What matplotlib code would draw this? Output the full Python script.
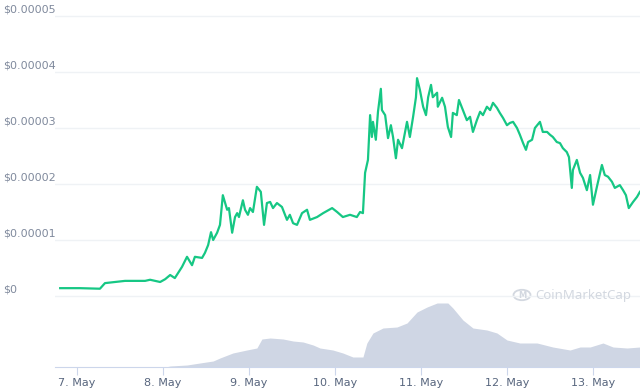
import numpy as np
import matplotlib.pyplot as plt
from matplotlib import transforms
from matplotlib.patches import Circle

# --- DATA ---
# hours since 7 May 00:00, price in units of $0.00001
price_hours = [-4.7, 0.8, 6.4, 7.8, 10.6, 13.4, 16.2, 19.0, 20.4, 23.2, 24.6, 26.0, 27.3,
               29.3, 30.7, 32.1, 32.9, 34.9, 35.7, 36.6, 37.4, 38.0, 39.1, 39.9, 40.7,
               41.9, 42.4, 43.3, 44.1, 44.7, 45.2, 46.3, 46.9, 47.7, 48.3, 49.1, 50.2,
               51.3, 52.2, 53.0, 53.9, 54.7, 55.8, 57.2, 58.6, 59.4, 60.3, 61.4, 62.8,
               64.2, 65.0, 67.0, 68.7, 71.2, 72.6, 74.2, 76.2, 78.1, 79.0, 79.8, 80.4,
               81.2, 81.8, 82.3, 82.6, 83.4, 84.0, 84.8, 85.1, 86.0, 86.8, 87.6, 88.2,
               89.0, 89.6, 90.7, 92.1, 92.9, 93.8, 94.6, 94.9, 95.7, 96.6, 97.4, 98.0,
               98.8, 99.3, 100.5, 100.7, 101.9, 102.7, 103.5, 104.4, 104.9, 106.0, 106.6,
               107.7, 108.8, 109.7, 110.5, 111.6, 112.5, 113.3, 114.4, 115.3, 116.1,
               117.2, 118.0, 118.9, 120.0, 120.8, 121.7, 122.8, 123.6, 124.5, 125.3,
               125.9, 127.0, 127.8, 129.2, 130.0, 131.2, 132.0, 132.8, 133.9, 134.8,
               135.6, 136.7, 137.3, 138.1, 138.4, 139.5, 140.4, 141.2, 142.3, 143.2,
               144.0, 145.1, 146.5, 147.3, 148.2, 149.3, 150.1, 151.5, 152.4, 153.2,
               154.0, 155.2, 156.3, 157.1]
price_e5 = [0.14, 0.14, 0.13, 0.23, 0.25, 0.27, 0.27, 0.27, 0.29, 0.25, 0.30, 0.375, 0.32,
            0.52, 0.70, 0.55, 0.70, 0.68, 0.77, 0.91, 1.14, 1.00, 1.13, 1.27, 1.80,
            1.54, 1.57, 1.13, 1.41, 1.48, 1.41, 1.71, 1.54, 1.45, 1.57, 1.50, 1.95,
            1.86, 1.27, 1.66, 1.68, 1.57, 1.66, 1.59, 1.36, 1.45, 1.30, 1.27, 1.48,
            1.54, 1.36, 1.41, 1.48, 1.57, 1.50, 1.41, 1.45, 1.41, 1.50, 1.48, 2.20,
            2.43, 3.23, 2.84, 3.11, 2.79, 3.29, 3.70, 3.32, 3.23, 2.82, 3.05, 2.84,
            2.46, 2.79, 2.64, 3.11, 2.84, 3.20, 3.55, 3.89, 3.68, 3.38, 3.23, 3.55,
            3.77, 3.55, 3.63, 3.38, 3.54, 3.38, 3.02, 2.84, 3.27, 3.23, 3.50,
            3.32, 3.14, 3.20, 2.93, 3.14, 3.29, 3.23, 3.38, 3.32, 3.45,
            3.36, 3.27, 3.18, 3.05, 3.09, 3.11, 3.00, 2.88, 2.73, 2.61,
            2.75, 2.79, 3.00, 3.11, 2.93, 2.93, 2.88, 2.84, 2.75, 2.73,
            2.64, 2.57, 2.48, 1.93, 2.25, 2.43, 2.20, 2.11, 1.89, 2.16,
            1.63, 1.95, 2.34, 2.16, 2.13, 2.04, 1.93, 1.98, 1.89, 1.80,
            1.57, 1.68, 1.77, 1.86]

# volume (relative units)
vol_hours = [-4.7, 24.6, 26.0, 30.7, 34.3, 38.0, 39.9, 43.5, 47.4, 50.2, 51.6, 53.9, 57.5,
             60.3, 63.1, 65.9, 67.8, 71.4, 74.2, 77.0, 79.8, 80.9, 82.6, 85.4, 89.3,
             92.1, 94.9, 97.7, 100.5, 103.5, 104.9, 107.7, 110.5, 114.4, 117.2, 120.0,
             123.6, 128.4, 132.8, 137.6, 140.4, 143.2, 146.8, 149.6, 153.5, 157.1]
volume = [0, 0, 1, 2, 4, 6, 9, 14, 17, 19, 28, 29, 28,
          26, 25, 22, 19, 17, 14, 10, 10, 24, 34, 39, 40,
          44, 55, 60, 64, 64, 59, 47, 39, 37, 34, 27,
          24, 24, 20, 17, 20, 20, 24, 20, 19, 20]

tick_days = [7, 8, 9, 10, 11, 12, 13]
tick_labels = [f"{d}. May" for d in tick_days]
y_ticks_e5 = [0, 1, 2, 3, 4, 5]
y_labels = ["$0", "$0.00001", "$0.00002", "$0.00003", "$0.00004", "$0.00005"]

GREEN = '#16c784'
VOL_COLOR = '#cfd6e4'
GRID = '#eff2f5'
LABEL = '#808a9d'

# --- FIGURE ---
fig = plt.figure(figsize=(6.4, 3.92), dpi=100)
ax = fig.add_axes([55 / 640, 25 / 392, 585 / 640, 367 / 392])
vax = ax.twinx()
ax.set_zorder(2)
ax.patch.set_visible(False)

x_price = 7 + np.array(price_hours) / 24
x_vol = 7 + np.array(vol_hours) / 24

vax.fill_between(x_vol, 0, volume, color=VOL_COLOR, lw=0)
vax.set_ylim(0, 367)
vax.set_yticks([])

prices = np.array(price_e5) * 1e-5
ax.plot(x_price, prices, color=GREEN, lw=1.6, solid_joinstyle='round')
ax.set_ylim(-1.268e-5, 5.286e-5)
ax.set_xlim(6.744, 13.547)

for v in y_ticks_e5:
    ax.axhline(v * 1e-5, color=GRID, lw=1, zorder=0)
ax.set_yticks([])

trans = transforms.blended_transform_factory(fig.transFigure, ax.transData)
for v, lab in zip(y_ticks_e5, y_labels):
    ax.text(3 / 640, v * 1e-5 + 0.03e-5, lab, transform=trans, ha='left', va='bottom',
            fontsize=8, color=LABEL, clip_on=False)

ax.set_xticks(tick_days)
ax.set_xticklabels(tick_labels, fontsize=8, color='#58667e')
ax.tick_params(axis='x', direction='out', length=6, color='#ccd6eb', pad=2)

for a in (ax, vax):
    for s in ('top', 'left', 'right'):
        a.spines[s].set_visible(False)
    a.spines['bottom'].set_color('#ccd6eb')
vax.spines['bottom'].set_visible(False)

# watermark
wm = '#d3d8e0'
wy = (392 - 295) / 392
fig.text(631 / 640, wy, 'CoinMarketCap', fontsize=9.5, color=wm, family='Noto Sans',
         fontweight='semibold', ha='right', va='center')
logo = Circle((522 / 640, wy), 8.5 / 640, transform=fig.transFigure,
              fill=False, edgecolor=wm, lw=1.3)
fig.patches.append(logo)
fig.text(522 / 640, wy, 'M', fontsize=6, color=wm, ha='center', va='center',
         fontweight='bold')

fig.savefig('out.png', dpi=100)
